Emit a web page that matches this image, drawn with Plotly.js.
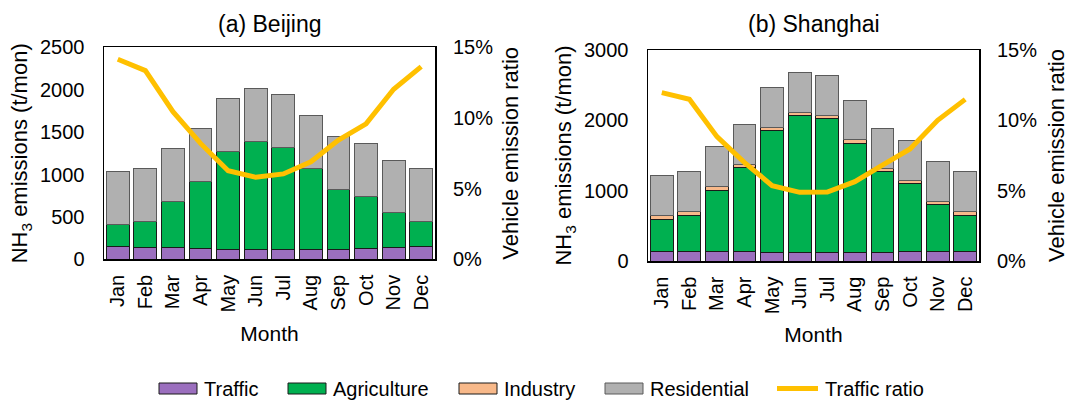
<!DOCTYPE html>
<html>
<head>
<meta charset="utf-8">
<script src="https://cdn.plot.ly/plotly-3.0.1.min.js"></script>
<style>html,body{margin:0;padding:0;background:#fff}#chart{width:1069px;height:401px}</style>
</head>
<body>
<div id="chart"></div>
<script>
const months = ['Jan','Feb','Mar','Apr','May','Jun','Jul','Aug','Sep','Oct','Nov','Dec'];

// Beijing (t/mon)
const bjTraffic     = [149,138,138,126,114,114,114,114,114,126,138,149];
const bjAgriculture = [260,306,542,794,1156,1281,1207,955,711,613,412,295];
const bjIndustry    = [0,0,0,0,0,0,0,0,0,0,5,0];
const bjResidential = [625,625,629,621,625,625,621,621,618,625,616,625];
const bjRatio       = [0.1415,0.1335,0.1045,0.082,0.0627,0.058,0.0604,0.069,0.0844,0.0958,0.1203,0.1363];

// Shanghai (t/mon)
const shTraffic     = [137,137,137,137,123,123,123,123,123,137,137,137];
const shAgriculture = [460,517,872,1190,1735,1939,1901,1545,1147,963,664,512];
const shIndustry    = [48,47,48,47,42,52,42,62,52,47,47,52];
const shResidential = [568,569,569,564,569,564,569,550,560,564,569,569];
const shRatio       = [0.1197,0.115,0.0884,0.0699,0.0536,0.0488,0.049,0.0564,0.0682,0.0796,0.100,0.1149];

const seriesNames = ['Traffic','Agriculture','Industry','Residential','Traffic ratio'];
const seriesColors = ['#9b6fbe','#00b050','#f8b98a','#b0b0b0','#ffc000'];
const outlineColors = ['#1a1a1a','#1a1a1a','#1a1a1a','#5a5a5a'];

const FONT = 'Arial, "Liberation Sans", sans-serif';
const W = 1069, H = 401;

function barTraces(vals, xa, ya) {
  return vals.map((v, i) => ({
    type: 'bar', x: months, y: v, name: seriesNames[i], xaxis: xa, yaxis: ya,
    marker: {color: seriesColors[i], line: {color: outlineColors[i], width: 1}},
    showlegend: false, hoverinfo: 'y+name'
  }));
}
function lineTrace(vals, xa, ya) {
  return {type: 'scatter', mode: 'lines', x: months, y: vals, name: seriesNames[4],
    xaxis: xa, yaxis: ya, line: {color: seriesColors[4], width: 5}, showlegend: false};
}

const data = [
  ...barTraces([bjTraffic, bjAgriculture, bjIndustry, bjResidential], 'x', 'y'),
  lineTrace(bjRatio, 'x', 'y2'),
  ...barTraces([shTraffic, shAgriculture, shIndustry, shResidential], 'x2', 'y3'),
  lineTrace(shRatio, 'x2', 'y4')
];

const tickFont = {family: FONT, size: 20, color: '#000'};
const xTitleFont = {family: FONT, size: 21, color: '#000'};
const yTitleFont = {family: FONT, size: 22, color: '#000'};

function xAxis(domain, anchor) {
  return {domain: domain, anchor: anchor, type: 'category', tickangle: -90, tickfont: tickFont,
    showline: true, mirror: true, linecolor: '#000', linewidth: 1.5, ticks: '', showgrid: false,
    ticklabelstandoff: 6, automargin: false,
    title: {text: 'Month', font: xTitleFont, standoff: 14}};
}
function yLeft(domain, anchor, max, dtick) {
  return {domain: domain, anchor: anchor, range: [0, max], dtick: dtick, tickfont: tickFont,
    showline: true, mirror: true, linecolor: '#000', linewidth: 1.5, showgrid: false, zeroline: false,
    ticks: '', ticklabelstandoff: 14, automargin: false,
    title: {text: 'NH<sub>3</sub> emissions (t/mon)', font: yTitleFont, standoff: 6}};
}
function yRight(overlay, anchor, tstand) {
  return {overlaying: overlay, anchor: anchor, side: 'right', range: [0, 0.15], dtick: 0.05,
    tickformat: '.0%', tickfont: tickFont, showgrid: false, zeroline: false, showline: false,
    ticks: '', ticklabelstandoff: 17, automargin: false,
    title: {text: 'Vehicle emission ratio', font: yTitleFont, standoff: tstand}};
}

const bjX = [104/W, 435/W], shX = [648/W, 979/W];
const bjY = [1-259.3/H, 1-47.3/H], shY = [1-261/H, 1-50/H];

const annotations = [
  {text: '(a) Beijing', x: (bjX[0]+bjX[1])/2, y: 1-24/H, xref: 'paper', yref: 'paper',
   xanchor: 'center', yanchor: 'middle', showarrow: false, font: {family: FONT, size: 23, color: '#000'}},
  {text: '(b) Shanghai', x: (shX[0]+shX[1])/2, y: 1-24/H, xref: 'paper', yref: 'paper',
   xanchor: 'center', yanchor: 'middle', showarrow: false, font: {family: FONT, size: 23, color: '#000'}}
];
const shapes = [];
// custom legend
const legX = [159, 288, 459, 605, 777];
const legY = 388.5;
seriesNames.forEach((nm, i) => {
  const x0 = legX[i], x1 = legX[i] + 38;
  if (i < 4) {
    shapes.push({type: 'rect', xref: 'paper', yref: 'paper', x0: x0/W, x1: x1/W,
      y0: 1-(legY+5.5)/H, y1: 1-(legY-5.5)/H, fillcolor: seriesColors[i],
      line: {color: outlineColors[i], width: 1}});
  } else {
    shapes.push({type: 'line', xref: 'paper', yref: 'paper', x0: x0/W, x1: (x1+3)/W,
      y0: 1-legY/H, y1: 1-legY/H, line: {color: seriesColors[i], width: 5}});
  }
  annotations.push({text: nm, x: (x1 + (i < 4 ? 5 : 8))/W, y: 1-legY/H, xref: 'paper', yref: 'paper',
    xanchor: 'left', yanchor: 'middle', showarrow: false, font: {family: FONT, size: 20, color: '#000'}});
});

const layout = {
  width: W, height: H, margin: {l: 0, r: 0, t: 0, b: 0},
  paper_bgcolor: '#fff', plot_bgcolor: '#fff',
  barmode: 'stack', bargap: 0.17, showlegend: false,
  font: {family: FONT, color: '#000'},
  xaxis: xAxis(bjX, 'y'), yaxis: yLeft(bjY, 'x', 2500, 500), yaxis2: yRight('y', 'x', 10),
  xaxis2: xAxis(shX, 'y3'), yaxis3: yLeft(shY, 'x2', 3000, 1000), yaxis4: yRight('y3', 'x2', 14),
  annotations: annotations, shapes: shapes
};

Plotly.newPlot('chart', data, layout, {displayModeBar: false, staticPlot: true});
</script>
</body>
</html>
